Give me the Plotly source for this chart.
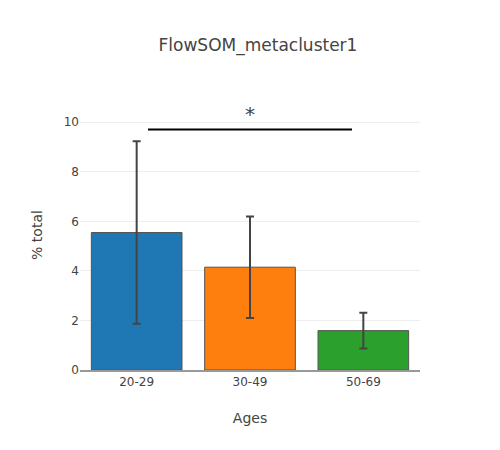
import plotly.graph_objects as go

# data
ages = ['20-29', '30-49', '50-69']
pct_total = [5.55, 4.15, 1.59]
err = [3.68, 2.05, 0.72]
colors = ['#1f77b4', '#ff7f0e', '#2ca02c']

# significance bracket (category positions)
sig_x = [0.1, 1.9]
sig_y = 9.71
sig_label = '*'

fig = go.Figure()

fig.add_trace(go.Bar(
    x=ages, y=pct_total,
    marker=dict(color=colors, line=dict(color='#555', width=1)),
    error_y=dict(type='data', array=err, color='#444', thickness=2, width=4),
    width=0.8,
    showlegend=False
))

fig.add_shape(type='line', xref='x', yref='y',
              x0=sig_x[0], x1=sig_x[1], y0=sig_y, y1=sig_y,
              line=dict(color='black', width=2))
fig.add_annotation(x=(sig_x[0] + sig_x[1]) / 2, y=sig_y, text=sig_label,
                   showarrow=False, yanchor='bottom', yshift=1,
                   font=dict(size=20, color='#444'))

fig.update_layout(
    title=dict(text='FlowSOM_metacluster1', x=0.5, xanchor='center',
               y=0.918, yanchor='middle', font=dict(size=17)),
    template='none',
    font=dict(family='DejaVu Sans', color='#444', size=12),
    width=500, height=450,
    margin=dict(l=72, r=88, t=92, b=88),
    xaxis=dict(title=dict(text='Ages', font=dict(size=14)), showline=True,
               linecolor='#999', linewidth=2, showgrid=False, ticks=''),
    yaxis=dict(title=dict(text='% total', font=dict(size=14)), range=[0, 10.9],
               dtick=2, zeroline=False, gridcolor='#eee', ticks=''),
)

fig.write_html("out.html")
